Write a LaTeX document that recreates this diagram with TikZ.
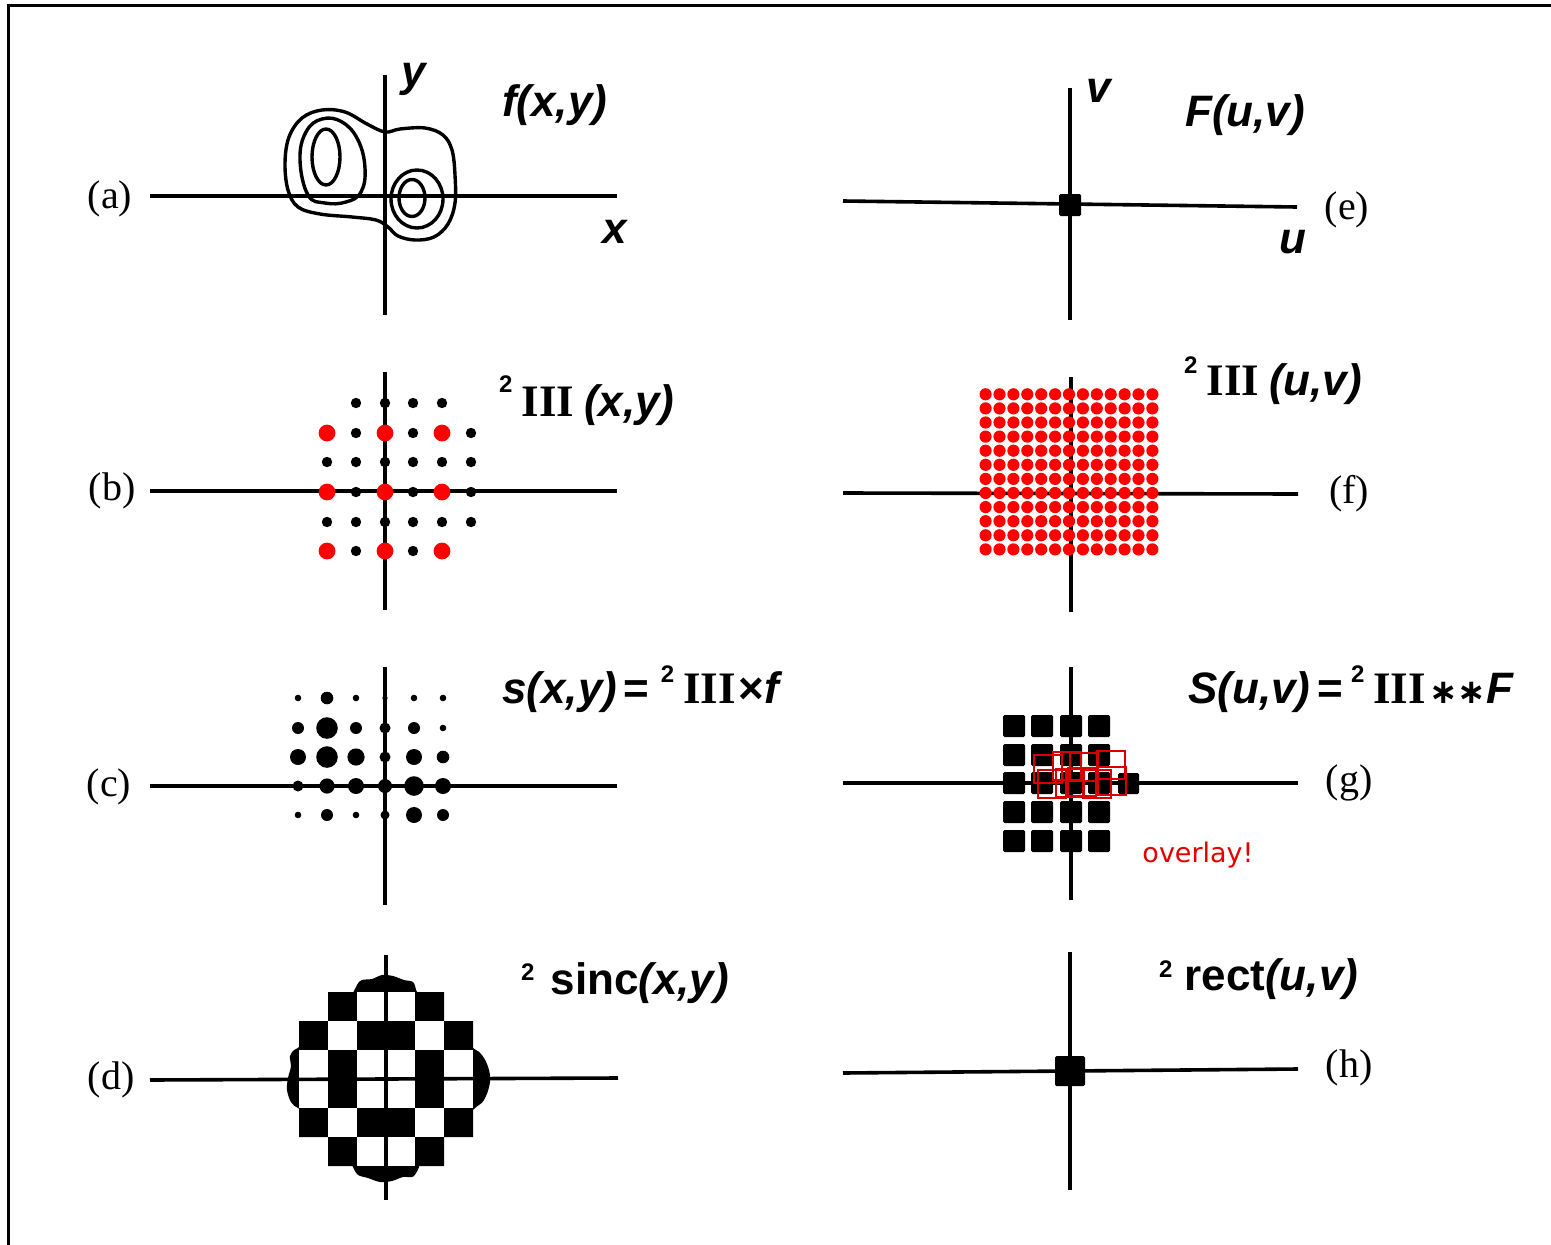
\documentclass[tikz,border=0pt]{standalone}
\usepackage{fix-cm}
\usepackage{fontspec}
\setmainfont{Liberation Serif}
\setsansfont{Liberation Sans}
\newfontfamily\dvsans{DejaVu Sans}
\newcommand{\suptwo}[1]{\raisebox{#1}{\sffamily\bfseries\upshape\fontsize{24}{26}\selectfont 2}}
\newcommand{\shaIII}{{\rmfamily\bfseries\upshape\fontsize{45}{48}\selectfont III}}
\begin{document}
\begin{tikzpicture}[x=1pt,y=-1pt,
 ax/.style={line width=3.6pt},
 cont/.style={line width=3.4pt},
 plab/.style={font=\rmfamily\fontsize{40}{44}\selectfont, inner sep=0pt},
 vlab/.style={font=\sffamily\bfseries\itshape\fontsize{44}{48}\selectfont, inner sep=0pt},
 flab/.style={font=\sffamily\bfseries\fontsize{44}{48}\selectfont, anchor=base west, inner sep=0pt},
 bdot/.style={fill=black},
 rdot/.style={fill=red},
 sqbox/.style={fill=black, rounded corners=1.5pt},
 rsq/.style={draw=red!85!black, line width=1.5pt}]
\useasboundingbox (0,0) rectangle (1551,1245);
\fill[white] (0,0) rectangle (1551,1245);
% frame
\coordinate (ftr) at (1551,5);
\coordinate (ftl) at (8.7,5);
\coordinate (fbl) at (8.7,1245);
\draw[line width=3pt] (ftr) -- (ftl) -- (fbl);

% ---------------- (a)
\coordinate (aL) at (150,196); \coordinate (aR) at (617,196);
\coordinate (aT) at (385,75);  \coordinate (aB) at (385,315);
\draw[ax] (aL) -- (aR);
\draw[ax] (aT) -- (aB);
\draw[cont] plot[smooth cycle, tension=0.6] coordinates {(385,132) (400,129) (425,128) (443,135) (452,150) (455,175) (455,203) (448,224) (434,237) (415,240) (398,236) (388,227) (376,220) (352,217) (320,214) (298,207) (288,190) (285,163) (289,137) (302,118) (322,110) (345,112) (367,124)};
\draw[cont] plot[smooth cycle, tension=0.7] coordinates {(300,160) (306,132) (322,119) (342,122) (358,140) (365,168) (361,192) (346,202) (325,203) (308,195)};
\draw[cont] (326,157) ellipse [x radius=14, y radius=28];
\draw[cont] (417,199) ellipse [x radius=26, y radius=29];
\draw[cont] (412,198) ellipse [x radius=13, y radius=18.5];
\node[plab] (la) at (110,199) {(a)};
\node[vlab] (ay) at (414,79) {y};
\node[vlab] (ax) at (615,232) {x};
\node[vlab, anchor=base west] (af) at (502,116) {f(x,y)};

% ---------------- (b)
\coordinate (bL) at (150,491); \coordinate (bR) at (617,491);
\coordinate (bT) at (385,372); \coordinate (bB) at (385,610);
\draw[ax] (bL) -- (bR);
\draw[ax] (bT) -- (bB);
\foreach \x/\y in {356/403,385/403,413/403,442/403,
  356/433,413/433,471/433,
  327/462,356/462,385/462,413/462,442/462,471/462,
  356/492,413/492,471/492,
  327/522,356/522,385/522,413/522,442/522,471/522,
  356/551,413/551}
  \fill[bdot] (\x,\y) circle (5.2);
\foreach \x/\y in {327/433,385/433,442/433,327/492,385/492,442/492,327/551,385/551,442/551}
  \fill[rdot] (\x,\y) circle (8.4);
\node[plab] (lb) at (112,491) {(b)};
\node[flab] (bf) at (499,416) {\suptwo{24pt}\hspace{9pt}\shaIII\hspace{10pt}\textit{(x,y)}};

% ---------------- (c)
\coordinate (cL) at (150,786); \coordinate (cR) at (617,786);
\coordinate (cT) at (385,667); \coordinate (cB) at (385,905);
\draw[ax] (cL) -- (cR);
\draw[ax] (cT) -- (cB);
\foreach \x/\y/\r in {298/698/3.3,327/698/6.3,356/698/3.3,385/698/2.6,414/698/3.3,443/698/3.3,
  298/728/6,327/728/10.8,356/728/6,385/728/5.5,414/728/6,443/728/3.3,
  298/757/8,327/757/10.8,356/757/8.6,385/757/5.5,414/757/8,443/757/6.3,
  298/786/5.5,327/786/7.6,356/786/8,385/786/7,414/786/9.8,443/786/8,
  298/815/3.3,327/815/6,356/815/3.3,385/815/4.5,414/815/8,443/815/6}
  \fill[bdot] (\x,\y) circle (\r);
\node[plab] (lc) at (109,787) {(c)};
\node[flab] (cf) at (502,703) {\textit{s(x,y)}\hspace{6pt}=\hspace{12pt}\suptwo{21pt}\hspace{9pt}\shaIII\hspace{3pt}×\textit{f}};

% ---------------- (d)
\fill[black] (328,992) -- (444,992) -- (444,1021) -- (473,1021) -- (473,1137) -- (444,1137) -- (444,1166) -- (328,1166) -- (328,1137) -- (299,1137) -- (299,1021) -- (328,1021) -- cycle;
\fill[black] plot[smooth cycle, tension=0.6] coordinates {(310,1048) (296,1049) (290,1056) (291,1066) (288,1078) (287,1090) (291,1102) (298,1108) (310,1110)};
\fill[black] plot[smooth cycle, tension=0.6] coordinates {(462,1048) (476,1050) (484,1058) (489,1070) (490,1082) (486,1096) (479,1105) (462,1110)};
\fill[black] plot[smooth cycle, tension=0.5] coordinates {(356,1000) (357,985) (362,980) (372,979) (382,975) (393,976) (404,980) (413,982) (416,990) (416,1000)};
\fill[black] plot[smooth cycle, tension=0.5] coordinates {(356,1160) (357,1174) (368,1178) (380,1182) (392,1181) (403,1177) (414,1176) (416,1160)};
\foreach \c/\r in {-1/-3,0/-3,-2/-2,1/-2,-3/-1,-1/-1,0/-1,2/-1,-3/0,-1/0,0/0,2/0,-2/1,1/1,-1/2,0/2}
  \fill[white] ({386+29*\c},{1079+29*\r}) rectangle ++(29,29);
\coordinate (dL) at (150,1080); \coordinate (dR) at (618,1078);
\coordinate (dT) at (386,955);  \coordinate (dB) at (386,1200);
\draw[ax] (dL) -- (dR);
\draw[ax] (dT) -- (dB);
\node[plab] (ld) at (111,1080) {(d)};
\node[flab] (df) at (521,994) {\suptwo{14pt}\hspace{16pt}sinc\textit{(x,y)}};

% ---------------- (e)
\coordinate (eL) at (843,201); \coordinate (eR) at (1297,207);
\coordinate (eT) at (1070,88); \coordinate (eB) at (1070,320);
\draw[ax] (eL) -- (eR);
\draw[ax] (eT) -- (eB);
\fill[sqbox] (1059,194) rectangle ++(22,22);
\node[plab] (le) at (1347,210) {(e)};
\node[vlab] (ev) at (1099,91) {v};
\node[vlab] (eu) at (1293,242) {u};
\node[vlab, anchor=base west] (eF) at (1185,126) {F(u,v)};

% ---------------- (f)
\coordinate (fL) at (843,493); \coordinate (fR) at (1298,494);
\coordinate (fT) at (1071,377); \coordinate (fB) at (1071,612);
\draw[ax] (fL) -- (fR);
\draw[ax] (fT) -- (fB);
\foreach \i in {-6,...,6}
  \foreach \j in {-4,...,7}
    \fill[rdot] ({1069+13.9*\i},{493-14.1*\j}) circle (6.1);
\node[plab] (lf) at (1349,494) {(f)};
\node[flab] (ff) at (1184,395) {\suptwo{22pt}\hspace{9pt}\shaIII\hspace{10pt}\textit{(u,v)}};

% ---------------- (g)
\coordinate (gL) at (843,783); \coordinate (gR) at (1298,783);
\coordinate (gT) at (1071,667); \coordinate (gB) at (1071,900);
\draw[ax] (gL) -- (gR);
\draw[ax] (gT) -- (gB);
\foreach \x in {1014,1042,1071,1099}
  \foreach \y in {726,755,783,812,841}
    \fill[sqbox] ({\x-11},{\y-11}) rectangle ++(22,22);
\fill[sqbox] (1118,773) rectangle ++(21,21);
\foreach \x/\y in {1034/755,1053/752,1070/753,1097/751,1038/770,1056/769,1068/768,1083/770,1098/767}
  \draw[rsq] (\x,\y) rectangle ++(28,28);
\node[font=\dvsans\fontsize{27}{30}\selectfont, text=red!90!black, inner sep=0pt] (ov) at (1198,855) {overlay!};
\node[plab] (lg) at (1349,783) {(g)};
\node[flab] (gf) at (1188,703) {\textit{S(u,v)}\hspace{7pt}=\hspace{8pt}\suptwo{21pt}\hspace{9pt}\shaIII\hspace{3pt}{\dvsans\bfseries\fontsize{34}{38}\selectfont ∗∗}\hspace{1pt}\textit{F}};

% ---------------- (h)
\coordinate (hL) at (843,1073); \coordinate (hR) at (1298,1069);
\coordinate (hT) at (1070,952); \coordinate (hB) at (1070,1190);
\draw[ax] (hL) -- (hR);
\draw[ax] (hT) -- (hB);
\fill[sqbox] (1055,1056) rectangle ++(30,30);
\node[plab] (lh) at (1349,1068) {(h)};
\node[flab] (hf) at (1159,990) {\suptwo{13pt}\hspace{12pt}rect\textit{(u,v)}};
\end{tikzpicture}
\end{document}
